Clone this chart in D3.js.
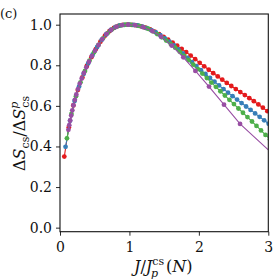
<!DOCTYPE html>
<html>
<head>
<meta charset="utf-8">
<script src="https://cdn.jsdelivr.net/npm/d3@7"></script>
<style>
  body { margin: 0; background: #fff; }
  svg text { font-family: "DejaVu Serif", serif; fill: #111; }
</style>
</head>
<body>
<svg width="274" height="280" id="content"></svg>
<script>
// values
var xTicks = [0, 1, 2, 3];
var yTicks = [0.0, 0.2, 0.4, 0.6, 0.8, 1.0];

var redX = [0.062, 0.127, 0.192, 0.257, 0.322, 0.387, 0.452, 0.517, 0.582, 0.647, 0.712, 0.777, 0.842, 0.907, 0.972, 1.037, 1.102, 1.167, 1.232, 1.297, 1.362, 1.427, 1.492, 1.557, 1.622, 1.687, 1.752, 1.817, 1.882, 1.947, 2.012, 2.077, 2.142, 2.207, 2.272, 2.337, 2.402, 2.467, 2.532, 2.597, 2.662, 2.727, 2.792, 2.857, 2.922, 2.987];
var redY = [0.350, 0.495, 0.602, 0.678, 0.740, 0.797, 0.840, 0.880, 0.916, 0.946, 0.968, 0.984, 0.994, 0.999, 1.000, 0.999, 0.997, 0.992, 0.985, 0.977, 0.966, 0.954, 0.940, 0.926, 0.912, 0.897, 0.881, 0.865, 0.848, 0.830, 0.812, 0.795, 0.778, 0.761, 0.745, 0.729, 0.713, 0.698, 0.683, 0.668, 0.653, 0.638, 0.623, 0.607, 0.591, 0.574];

var blueX = [0.080, 0.145, 0.210, 0.275, 0.340, 0.405, 0.470, 0.535, 0.600, 0.665, 0.730, 0.795, 0.860, 0.925, 0.990, 1.055, 1.120, 1.185, 1.250, 1.315, 1.380, 1.445, 1.510, 1.575, 1.640, 1.705, 1.770, 1.835, 1.900, 1.965, 2.030, 2.095, 2.160, 2.225, 2.290, 2.355, 2.420, 2.485, 2.550, 2.615, 2.680, 2.745, 2.810, 2.875, 2.940, 3.005];
var blueY = [0.398, 0.527, 0.624, 0.696, 0.757, 0.809, 0.852, 0.890, 0.925, 0.952, 0.973, 0.987, 0.996, 0.999, 1.000, 0.999, 0.996, 0.990, 0.983, 0.973, 0.962, 0.948, 0.933, 0.916, 0.898, 0.878, 0.858, 0.837, 0.816, 0.796, 0.776, 0.757, 0.738, 0.719, 0.701, 0.683, 0.665, 0.648, 0.631, 0.614, 0.597, 0.580, 0.563, 0.546, 0.529, 0.512];

var greenX = [0.100, 0.165, 0.230, 0.295, 0.360, 0.425, 0.490, 0.555, 0.620, 0.685, 0.750, 0.815, 0.880, 0.945, 1.010, 1.075, 1.140, 1.205, 1.270, 1.335, 1.400, 1.465, 1.530, 1.595, 1.660, 1.725, 1.790, 1.855, 1.920, 1.985, 2.050, 2.115, 2.180, 2.245, 2.310, 2.375, 2.440, 2.505, 2.570, 2.635, 2.700, 2.765, 2.830, 2.895, 2.960, 3.025];
var greenY = [0.440, 0.560, 0.648, 0.716, 0.772, 0.823, 0.864, 0.901, 0.933, 0.958, 0.977, 0.990, 0.997, 1.000, 1.000, 0.998, 0.994, 0.988, 0.980, 0.968, 0.954, 0.938, 0.922, 0.905, 0.887, 0.867, 0.846, 0.825, 0.803, 0.781, 0.759, 0.737, 0.715, 0.694, 0.672, 0.651, 0.630, 0.609, 0.587, 0.566, 0.545, 0.523, 0.501, 0.479, 0.457, 0.435];

var purpleX = [0.121, 0.133, 0.146, 0.161, 0.177, 0.194, 0.214, 0.235, 0.259, 0.285, 0.313, 0.344, 0.379, 0.417, 0.458, 0.504, 0.555, 0.610, 0.671, 0.738, 0.812, 0.893, 0.982, 1.080, 1.200, 1.330, 1.455, 1.608, 1.776, 1.950, 2.146, 2.362, 2.593];
var purpleY = [0.482, 0.505, 0.528, 0.552, 0.578, 0.603, 0.630, 0.656, 0.683, 0.710, 0.735, 0.762, 0.790, 0.818, 0.845, 0.872, 0.900, 0.929, 0.955, 0.975, 0.990, 0.998, 1.000, 0.998, 0.988, 0.969, 0.941, 0.897, 0.839, 0.772, 0.695, 0.606, 0.511];
// purple line keeps going past the last marker
var purpleTailX = [3.0];
var purpleTailY = [0.383];

var svg = d3.select("svg");
var plotLeft = 60, plotRight = 268.3, plotTop = 14, plotBottom = 231.7;
var serif = "'DejaVu Serif', serif";

var x = d3.scaleLinear().domain([0, 3]).range([plotLeft, plotRight]);
var y = d3.scaleLinear().domain([-0.02, 1.0527]).range([plotBottom, plotTop]);

svg.append("clipPath").attr("id", "plotclip")
  .append("rect")
  .attr("x", plotLeft).attr("y", plotTop)
  .attr("width", plotRight - plotLeft).attr("height", plotBottom - plotTop);

var series = [
  {color: "#e41a1c", xs: redX, ys: redY, tailX: [], tailY: []},
  {color: "#377eb8", xs: blueX, ys: blueY, tailX: [], tailY: []},
  {color: "#4daf4a", xs: greenX, ys: greenY, tailX: [], tailY: []},
  {color: "#984ea3", xs: purpleX, ys: purpleY, tailX: purpleTailX, tailY: purpleTailY}
];

var line = d3.line()
  .x(function(d) { return x(d[0]); })
  .y(function(d) { return y(d[1]); });

var plot = svg.append("g").attr("clip-path", "url(#plotclip)");

series.forEach(function(s) {
  var pts = d3.zip(s.xs, s.ys);
  var linePts = pts.concat(d3.zip(s.tailX, s.tailY));
  var g = plot.append("g");
  g.append("path")
    .datum(linePts)
    .attr("d", line)
    .attr("fill", "none")
    .attr("stroke", s.color)
    .attr("stroke-width", 1.1);
  g.selectAll("circle")
    .data(pts)
    .enter().append("circle")
    .attr("cx", function(d) { return x(d[0]); })
    .attr("cy", function(d) { return y(d[1]); })
    .attr("r", 2.4)
    .attr("fill", s.color);
});

// axes
var xAxis = d3.axisBottom(x).tickValues(xTicks).tickSize(4).tickPadding(4)
  .tickFormat(d3.format("d"));
var yAxis = d3.axisLeft(y).tickValues(yTicks).tickSize(4).tickPadding(4)
  .tickFormat(d3.format(".1f"));

var gx = svg.append("g").attr("transform", "translate(0," + plotBottom + ")").call(xAxis);
var gy = svg.append("g").attr("transform", "translate(" + plotLeft + ",0)").call(yAxis);
[gx, gy].forEach(function(g) {
  g.attr("font-family", serif);
  g.select(".domain").remove();
  g.selectAll(".tick line").attr("stroke", "#111").attr("stroke-width", 0.9);
  g.selectAll(".tick text").attr("font-size", 14).attr("fill", "#111");
});
gx.selectAll(".tick text").attr("dy", "0.9em");

// frame
svg.append("rect")
  .attr("x", plotLeft).attr("y", plotTop)
  .attr("width", plotRight - plotLeft).attr("height", plotBottom - plotTop)
  .attr("fill", "none").attr("stroke", "#111").attr("stroke-width", 1.1);

// panel label
svg.append("text").attr("x", 0).attr("y", 18).attr("font-size", 13).text("(c)");

// x label: J / J_p^cs (N)
var xl = svg.append("text").attr("x", 134).attr("y", 272).attr("font-size", 16);
xl.append("tspan").attr("font-style", "italic").text("J");
xl.append("tspan").text("/");
xl.append("tspan").attr("font-style", "italic").text("J");
xl.append("tspan").attr("font-size", 11).attr("dy", -7).text("cs");
xl.append("tspan").attr("font-size", 11).attr("font-style", "italic").attr("dx", -13).attr("dy", 12).text("p");
xl.append("tspan").attr("dx", 8).attr("dy", -5).text("(");
xl.append("tspan").attr("font-style", "italic").text("N");
xl.append("tspan").text(")");

// y label: ΔS_cs / ΔS^p_cs
var yl = svg.append("text")
  .attr("transform", "translate(25,171) rotate(-90)")
  .attr("font-size", 16);
yl.append("tspan").text("Δ");
yl.append("tspan").attr("font-style", "italic").text("S");
yl.append("tspan").attr("font-size", 11).attr("dy", 4).text("cs");
yl.append("tspan").attr("dy", -4).text("/");
yl.append("tspan").text("Δ");
yl.append("tspan").attr("font-style", "italic").text("S");
yl.append("tspan").attr("font-size", 11).attr("font-style", "italic").attr("dy", -7).text("p");
yl.append("tspan").attr("font-size", 11).attr("dx", -6).attr("dy", 11).text("cs");
</script>
</body>
</html>
